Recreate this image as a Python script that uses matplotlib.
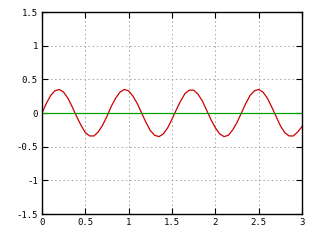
import matplotlib
matplotlib.use('Agg')
import matplotlib.pyplot as plt

# values (x step 0.05)
x_vals = [0.00, 0.05, 0.10, 0.15, 0.20, 0.25, 0.30, 0.35, 0.40, 0.45,
          0.50, 0.55, 0.60, 0.65, 0.70, 0.75, 0.80, 0.85, 0.90, 0.95,
          1.00, 1.05, 1.10, 1.15, 1.20, 1.25, 1.30, 1.35, 1.40, 1.45,
          1.50, 1.55, 1.60, 1.65, 1.70, 1.75, 1.80, 1.85, 1.90, 1.95,
          2.00, 2.05, 2.10, 2.15, 2.20, 2.25, 2.30, 2.35, 2.40, 2.45,
          2.50, 2.55, 2.60, 2.65, 2.70, 2.75, 2.80, 2.85, 2.90, 2.95, 3.00]
red_vals = [0.00, 0.14, 0.26, 0.33, 0.35, 0.31, 0.22, 0.09, -0.05, -0.18,
            -0.29, -0.34, -0.34, -0.28, -0.18, -0.05, 0.10, 0.22, 0.31, 0.35,
            0.33, 0.25, 0.14, 0.00, -0.14, -0.26, -0.33, -0.35, -0.31, -0.22,
            -0.09, 0.05, 0.18, 0.29, 0.34, 0.34, 0.28, 0.18, 0.04, -0.10,
            -0.22, -0.31, -0.35, -0.33, -0.25, -0.14, 0.00, 0.14, 0.26, 0.33,
            0.35, 0.31, 0.22, 0.09, -0.05, -0.19, -0.29, -0.34, -0.34, -0.28, -0.20]
green_x = [0, 3]
green_vals = [0, 0]

x_ticks = [0, 0.5, 1, 1.5, 2, 2.5, 3]
x_labels = ['0', '0.5', '1', '1.5', '2', '2.5', '3']
y_ticks = [-1.5, -1, -0.5, 0, 0.5, 1, 1.5]
y_labels = ['-1.5', '-1', '-0.5', '0', '0.5', '1', '1.5']

plt.rcParams['font.family'] = ['DejaVu Sans Mono']

fig = plt.figure(figsize=(3.2, 2.4), dpi=100)
ax = fig.add_axes([0.131, 0.108, 0.813, 0.842])

ax.plot(x_vals, red_vals, color='#cc0000', linewidth=0.9)
ax.plot(green_x, green_vals, color='#00a000', linewidth=0.9)

ax.set_xlim(0, 3)
ax.set_ylim(-1.5, 1.5)
ax.set_xticks(x_ticks)
ax.set_xticklabels(x_labels)
ax.set_yticks(y_ticks)
ax.set_yticklabels(y_labels)
ax.tick_params(direction='in', top=True, right=True, length=4, width=0.8,
               labelsize=6.5, pad=3)
ax.grid(True, color='#a0a0a0', linestyle=(0, (2, 3)), linewidth=0.6)
for s in ax.spines.values():
    s.set_linewidth(1.0)

fig.savefig('out.png', dpi=100)
